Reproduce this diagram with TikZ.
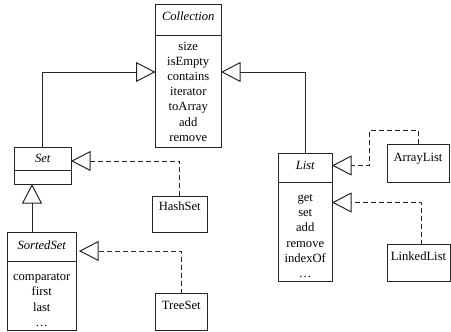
\documentclass[tikz,border=0pt]{standalone}
\usepackage{fontspec}
\setmainfont{Liberation Serif}
\usetikzlibrary{arrows.meta,calc}
\begin{document}
\begin{tikzpicture}[x=1pt,y=-1pt,
  font=\fontsize{12.6}{15.2}\selectfont,
  cls/.style={draw=black!85,line width=1pt,inner sep=0pt,outer sep=0pt},
  ttl/.style={anchor=base,inner sep=0pt,font=\fontsize{12.6}{15.2}\selectfont\itshape},
  lbl/.style={anchor=base,inner sep=0pt},
  mth/.style={align=center,inner sep=0pt},
  inh/.style={draw=black!85,line width=1pt,-{Triangle[open,length=19.5pt,width=20pt,line width=1pt]}},
  real/.style={inh,dash pattern=on 5pt off 3pt}]
\useasboundingbox (0,0) rectangle (451,332);
% boxes
\node[cls,minimum width=65.5pt,minimum height=143pt] (coll) at (188.25,75.5) {};
\node[cls,minimum width=56.5pt,minimum height=36.5pt] (set) at (42.75,165.75) {};
\node[cls,minimum width=69.5pt,minimum height=97.5pt] (sorted) at (41.75,281.25) {};
\node[cls,minimum width=54.5pt,minimum height=36pt] (hash) at (179.75,214) {};
\node[cls,minimum width=51.5pt,minimum height=36.5pt] (tree) at (181.25,311.75) {};
\node[cls,minimum width=53.5pt,minimum height=128pt] (list) at (305.25,217.5) {};
\node[cls,minimum width=62pt,minimum height=38pt] (alist) at (418,163) {};
\node[cls,minimum width=63pt,minimum height=37pt] (llist) at (418.5,263) {};
% dividers
\draw[draw=black!85,line width=1pt] (coll.west |- 0,35.5) -- (coll.east |- 0,35.5);
\draw[draw=black!85,line width=1pt] (set.west |- 0,170.5) -- (set.east |- 0,170.5);
\draw[draw=black!85,line width=1pt] (sorted.west |- 0,261) -- (sorted.east |- 0,261);
\draw[draw=black!85,line width=1pt] (list.west |- 0,182) -- (list.east |- 0,182);
% titles
\node[ttl] (collT) at (188.25,20.7) {Collection};
\node[ttl] (setT) at (42.75,162.7) {Set};
\node[ttl] (sortedT) at (41.75,249.3) {SortedSet};
\node[ttl] (listT) at (305.25,169) {List};
\node[lbl] (hashT) at (179.75,211) {HashSet};
\node[lbl] (treeT) at (181.25,309) {TreeSet};
\node[lbl] (alistT) at (418,161) {ArrayList};
\node[lbl] (llistT) at (418.5,260) {LinkedList};
% methods
\node[mth] (collM) at (188.25,91.5) {size\\isEmpty\\contains\\iterator\\toArray\\add\\remove};
\node[mth] (listM) at (305.25,236) {get\\set\\add\\remove\\indexOf\\\dots};
\node[mth] (sortedM) at (41.75,300) {comparator\\first\\last\\\dots};
% connectors
\coordinate (c1) at (0,72);
\coordinate (c2) at (0,161);
\coordinate (c3) at (32,0);
\coordinate (c4) at (0,251);
\coordinate (c5) at (369,130.5);
\coordinate (c6) at (0,165.5);
\coordinate (c7) at (421.5,0);
\coordinate (c8) at (0,202.5);
\draw[inh] (set.north) |- (coll.west |- c1);
\draw[inh] (list.north) |- (coll.east |- c1);
\draw[inh] (sorted.north -| c3) -- (set.south -| c3);
\draw[real] (hash.north) |- (set.east |- c2);
\draw[real,shorten >=2.5pt] (tree.north) |- (sorted.east |- c4);
\draw[real] (alist.north) |- (c5) |- (list.east |- c6);
\draw[real] (llist.north -| c7) |- (list.east |- c8);
\end{tikzpicture}
\end{document}
